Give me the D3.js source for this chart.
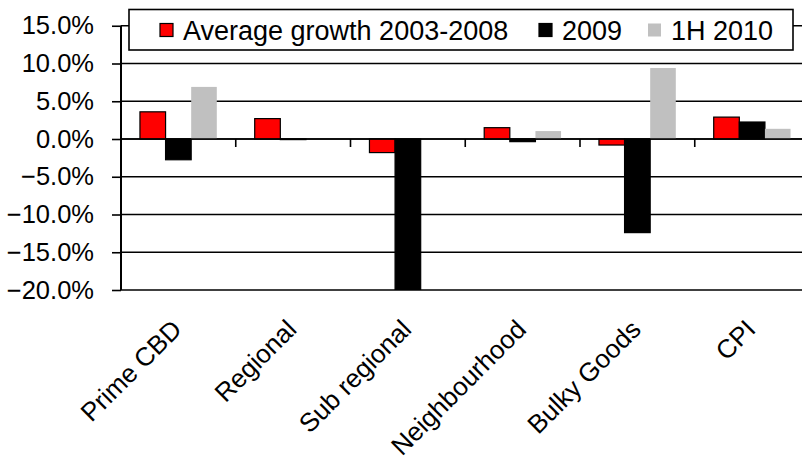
<!DOCTYPE html>
<html>
<head>
<meta charset="utf-8">
<script src="https://cdn.jsdelivr.net/npm/d3@7"></script>
<style>
  html, body { margin: 0; padding: 0; background: #fff; }
  svg { display: block; font-family: "Liberation Sans", Arial, sans-serif; }
</style>
</head>
<body>
<svg id="chart" width="802" height="460"></svg>
<script>
const categories = ["Prime CBD", "Regional", "Sub regional", "Neighbourhood", "Bulky Goods", "CPI"];
const seriesNames = ["Average growth 2003-2008", "2009", "1H 2010"];
const seriesColors = ["#ff0000", "#000000", "#c0c0c0"];
const seriesStrokes = ["#000000", "#000000", "none"];
const avgGrowth = [3.6, 2.7, -1.8, 1.5, -0.8, 2.9];
const y2009 = [-2.75, -0.08, -20.0, -0.35, -12.4, 2.25];
const h12010 = [6.9, 0, 0, 1.05, 9.4, 1.35];
const yTicks = [15, 10, 5, 0, -5, -10, -15, -20];

const seriesValues = [avgGrowth, y2009, h12010];

const svg = d3.select("#chart");
const plotLeft = 121, plotRight = 809.5, plotTop = 25.75, plotBottom = 290;

const x = d3.scaleBand().domain(categories).range([plotLeft, plotRight]).paddingInner(0).paddingOuter(0);
const xs = d3.scaleBand().domain(d3.range(seriesNames.length)).range([0, x.bandwidth()]).paddingInner(0).paddingOuter(0.74);
const y = d3.scaleLinear().domain([-20, 15]).range([plotBottom, plotTop]);

// gridlines
svg.append("g").selectAll("line").data(yTicks).join("line")
  .attr("x1", plotLeft).attr("x2", plotRight)
  .attr("y1", d => y(d)).attr("y2", d => y(d))
  .attr("stroke", "#000").attr("stroke-width", 1.4);

// y axis
const yAxis = d3.axisLeft(y).tickValues(yTicks).tickSize(9).tickPadding(18)
  .tickFormat(d => d3.format(".1f")(d) + "%");
const ya = svg.append("g").attr("transform", `translate(${plotLeft},0)`).call(yAxis);
ya.select(".domain").attr("stroke", "#000").attr("stroke-width", 2).attr("d", `M0,${plotTop}V${plotBottom}`);
ya.selectAll(".tick line").attr("stroke", "#000").attr("stroke-width", 1.6);
ya.selectAll(".tick text").attr("font-size", "25.5px").attr("fill", "#000")
  .attr("font-family", "Liberation Sans, Arial, sans-serif");

// bars
const clip = svg.append("clipPath").attr("id", "plotclip").append("rect")
  .attr("x", plotLeft).attr("y", plotTop - 1).attr("width", plotRight - plotLeft).attr("height", plotBottom - plotTop + 1);
const barData = [];
seriesValues.forEach((vals, si) => vals.forEach((v, ci) => barData.push({si, ci, v})));
svg.append("g").attr("clip-path", "url(#plotclip)")
  .selectAll("rect").data(barData).join("rect")
  .attr("x", d => x(categories[d.ci]) + xs(d.si))
  .attr("width", xs.bandwidth())
  .attr("y", d => y(Math.max(0, d.v)))
  .attr("height", d => Math.abs(y(d.v) - y(0)))
  .attr("fill", d => seriesColors[d.si])
  .attr("stroke", d => seriesStrokes[d.si])
  .attr("stroke-width", 1.2);

// category axis at zero
const xAxis = d3.axisBottom(x).tickSize(0).tickFormat("");
const xa = svg.append("g").attr("transform", `translate(0,${y(0)})`).call(xAxis);
xa.select(".domain").attr("stroke", "#000").attr("stroke-width", 1.6).attr("d", `M${plotLeft},0H${plotRight}`);
svg.append("g").selectAll("line").data(categories.slice(1)).join("line")
  .attr("x1", d => x(d)).attr("x2", d => x(d))
  .attr("y1", y(0)).attr("y2", y(0) + 8)
  .attr("stroke", "#000").attr("stroke-width", 1.6);

// category labels
svg.append("g").selectAll("text").data(categories).join("text")
  .attr("transform", d => `translate(${x(d) + x.bandwidth() / 2 + 5},331) rotate(-45)`)
  .attr("text-anchor", "end")
  .attr("font-size", "26px")
  .attr("fill", "#000")
  .text(d => d);

// legend
const lg = svg.append("g");
lg.append("rect").attr("x", 129).attr("y", 9.5).attr("width", 664).attr("height", 40.5)
  .attr("fill", "#fff").attr("stroke", "#000").attr("stroke-width", 1.6);
const legendX = [160, 539, 648];
seriesNames.forEach((name, i) => {
  lg.append("rect").attr("x", legendX[i]).attr("y", 23.5).attr("width", 13).attr("height", 13)
    .attr("fill", seriesColors[i]).attr("stroke", seriesStrokes[i]).attr("stroke-width", 1.2);
  lg.append("text").attr("x", legendX[i] + 23).attr("y", 39.5)
    .attr("font-size", "27px").attr("fill", "#000").text(name);
});
</script>
</body>
</html>
